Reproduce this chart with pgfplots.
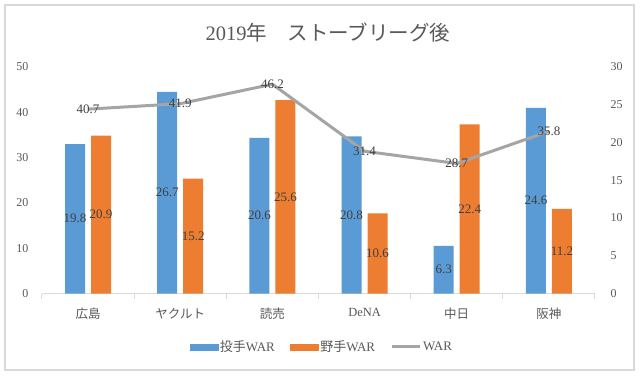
\documentclass[border=0pt]{standalone}
\usepackage{pgfplots}
\pgfplotsset{compat=1.18}
\usepackage{pgfplotstable}
\usepackage{fontspec}
\setmainfont{Liberation Serif}
\newfontfamily\jp{Noto Sans CJK JP}
\definecolor{cblue}{HTML}{5B9BD5}
\definecolor{corange}{HTML}{ED7D31}
\definecolor{cgray}{HTML}{A5A5A5}
\definecolor{ctext}{HTML}{595959}
\definecolor{clab}{HTML}{404040}
\definecolor{cframe}{HTML}{D9D9D9}

\pgfplotstableread{
x p f w
0 19.8 20.9 40.7
1 26.7 15.2 41.9
2 20.6 25.6 46.2
3 20.8 10.6 31.4
4 6.3 22.4 28.7
5 24.6 11.2 35.8
}\data

\begin{document}
\begin{tikzpicture}
\fill[white] (0bp,0bp) rectangle (640bp,376bp);
\draw[cframe, line width=1.2bp] (5bp,6bp) rectangle (634bp,371bp);
\node[text=ctext, font=\fontsize{20.5bp}{23bp}\selectfont] at (328bp,343bp) {2019{\jp 年　ストーブリーグ後}};
% bar axis (right scale)
\begin{axis}[
  at={(88.08bp,82.5bp)}, anchor=origin, scale only axis,
  width=553bp, height=226.5bp,
  xmin=-0.5, xmax=5.5, ymin=0, ymax=30,
  axis y line*=right, axis x line*=bottom,
  y axis line style={draw=none},
  x axis line style={draw=cframe, line width=1bp},
  xtick={0,...,5},
  xticklabels={{\jp 広島},{\jp ヤクルト},{\jp 読売},DeNA,{\jp 中日},{\jp 阪神}},
  minor xtick={-0.5,0.5,...,5.5},
  tick align=outside,
  x tick style={draw=cframe, line width=1bp},
  major x tick style={draw=none},
  minor tick length=5bp,
  ytick={0,5,...,30},
  y tick style={draw=none},
  major tick length=0pt,
  xticklabel style={text=ctext, font=\fontsize{12.5bp}{14bp}\selectfont, yshift=-11bp},
  yticklabel style={text=ctext, font=\fontsize{12bp}{14bp}\selectfont, xshift=12bp},
  /pgf/number format/assume math mode=true,
  clip=false,
]
\addplot[ybar, bar width=20bp, bar shift=-13bp, fill=cblue, draw=none] table[x=x,y=p]{\data};
\addplot[ybar, bar width=20bp, bar shift=13bp, fill=corange, draw=none] table[x=x,y=f]{\data};
\addplot[draw=none, mark=none, nodes near coords, point meta=explicit,
  nodes near coords style={anchor=center, xshift=-13bp, text=clab, font=\fontsize{13bp}{15bp}\selectfont}]
  table[x=x, y expr=\thisrow{p}/2, meta=p]{\data};
\addplot[draw=none, mark=none, nodes near coords, point meta=explicit,
  nodes near coords style={anchor=center, xshift=13bp, text=clab, font=\fontsize{13bp}{15bp}\selectfont}]
  table[x=x, y expr=\thisrow{f}/2, meta=f]{\data};
\end{axis}
% line axis (left scale)
\begin{axis}[
  at={(88.08bp,82.5bp)}, anchor=origin, scale only axis,
  width=553bp, height=226.5bp,
  xmin=-0.5, xmax=5.5, ymin=0, ymax=50,
  axis y line*=left, hide x axis,
  y axis line style={draw=none},
  ytick={0,10,...,50},
  y tick style={draw=none},
  major tick length=0pt,
  yticklabel style={text=ctext, font=\fontsize{12bp}{14bp}\selectfont, xshift=-10bp},
  /pgf/number format/assume math mode=true,
  clip=false,
  legend columns=3,
  legend style={at={(0.506,-0.236)}, anchor=center, draw=none, fill=none,
    font=\fontsize{13bp}{15bp}\selectfont, text=ctext,
    /tikz/every even column/.append style={column sep=14bp},
    nodes={inner sep=1.5bp}},
]
\addlegendimage{legend image code/.code={\fill[cblue] (0bp,-3bp) rectangle (28bp,3bp);}}
\addlegendentry{{\jp 投手}WAR}
\addlegendimage{legend image code/.code={\fill[corange] (0bp,-3bp) rectangle (28bp,3bp);}}
\addlegendentry{{\jp 野手}WAR}
\addplot[cgray, line width=3bp, mark=none, nodes near coords, point meta=y,
  nodes near coords style={anchor=center, text=clab, font=\fontsize{13bp}{15bp}\selectfont},
  legend image code/.code={\draw[cgray, line width=3bp] (0bp,0bp) -- (28bp,0bp);}]
  table[x=x,y=w]{\data};
\addlegendentry{WAR}
\end{axis}
\end{tikzpicture}
\end{document}
